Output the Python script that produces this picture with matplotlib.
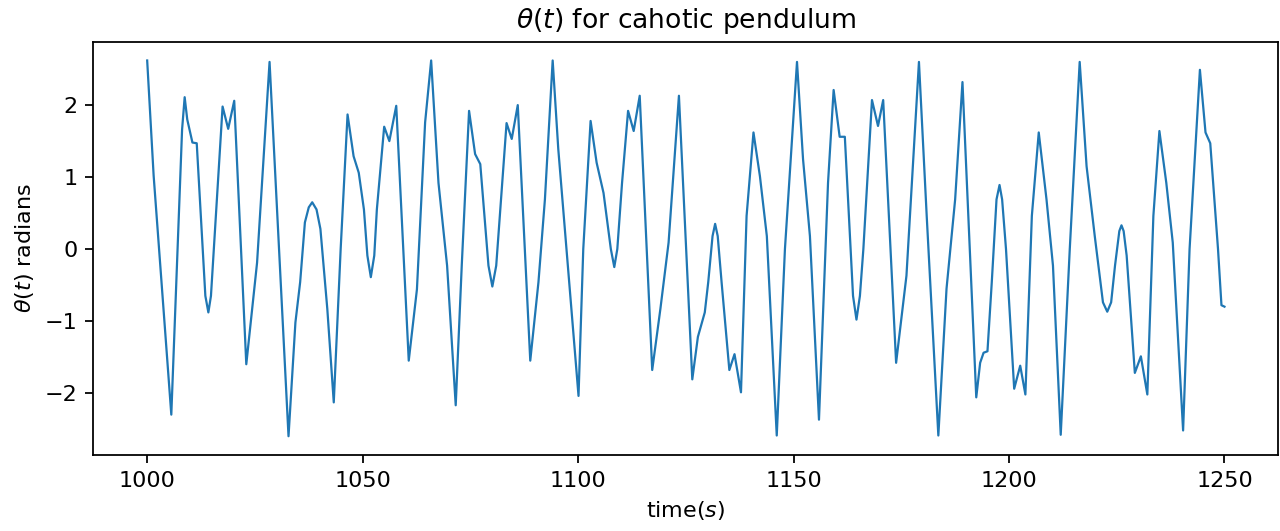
import matplotlib
matplotlib.use('Agg')
import matplotlib.pyplot as plt

# points (time in s, angle in radians)
time_s = [
    1000.0, 1001.5, 1005.6, 1008.1, 1008.7, 1009.3, 1010.5, 1011.5, 1013.5, 1014.2,
    1014.8, 1017.5, 1018.8, 1020.2, 1023.0, 1025.5, 1028.4, 1032.8, 1034.4, 1035.5,
    1036.6, 1037.5, 1038.3, 1039.3, 1040.2, 1041.8, 1043.3, 1044.9, 1046.5, 1047.9,
    1049.1, 1050.3, 1051.1, 1051.9, 1052.7, 1053.3, 1055.0, 1056.2, 1057.8, 1060.7,
    1062.6, 1064.5, 1065.9, 1067.6, 1069.6, 1071.6, 1073.0, 1074.7, 1076.1, 1077.3,
    1079.2, 1080.1, 1081.0, 1083.4, 1084.6, 1086.0, 1088.9, 1090.8, 1092.3, 1094.1,
    1095.4, 1097.3, 1100.1, 1101.2, 1102.9, 1104.3, 1105.9, 1107.6, 1108.4, 1109.1,
    1110.2, 1111.6, 1112.9, 1114.3, 1117.2, 1119.1, 1121.0, 1123.4, 1126.5, 1127.8,
    1129.4, 1130.2, 1131.2, 1131.8, 1132.4, 1133.3, 1135.1, 1136.3, 1137.8, 1139.1,
    1140.7, 1142.2, 1143.8, 1146.1, 1148.0, 1150.8, 1152.2, 1153.8, 1155.9, 1158.0,
    1159.3, 1160.7, 1161.9, 1163.8, 1164.6, 1165.4, 1166.2, 1168.2, 1169.6, 1170.8,
    1173.8, 1176.2, 1179.1, 1180.9, 1183.6, 1185.5, 1187.5, 1189.2, 1192.4, 1193.3,
    1194.1, 1195.0, 1196.0, 1197.1, 1197.8, 1198.4, 1199.3, 1201.2, 1202.6, 1203.8,
    1205.3, 1206.9, 1208.7, 1210.2, 1212.0, 1214.1, 1216.4, 1218.0, 1219.9, 1221.8,
    1222.8, 1223.7, 1224.6, 1225.6, 1226.1, 1226.6, 1227.3, 1229.2, 1230.6, 1232.1,
    1233.5, 1234.9, 1236.5, 1238.0, 1240.4, 1241.9, 1244.3, 1245.6, 1246.7, 1248.5,
    1249.3, 1250.0,
]
theta_rad = [
    2.62, 1.02, -2.30, 1.66, 2.11, 1.80, 1.48, 1.47, -0.65, -0.88,
    -0.65, 1.98, 1.67, 2.06, -1.60, -0.19, 2.60, -2.60, -1.02, -0.46,
    0.37, 0.58, 0.65, 0.55, 0.28, -0.83, -2.13, 0.00, 1.87, 1.29,
    1.06, 0.55, -0.09, -0.39, -0.09, 0.55, 1.70, 1.50, 1.99, -1.55,
    -0.56, 1.76, 2.62, 0.92, -0.23, -2.17, -0.23, 1.92, 1.32, 1.18,
    -0.23, -0.52, -0.23, 1.75, 1.53, 2.00, -1.55, -0.46, 0.69, 2.62,
    1.39, 0.00, -2.04, 0.00, 1.78, 1.20, 0.78, 0.00, -0.25, 0.00,
    0.92, 1.92, 1.64, 2.13, -1.68, -0.83, 0.09, 2.13, -1.81, -1.22,
    -0.88, -0.46, 0.18, 0.35, 0.18, -0.46, -1.68, -1.46, -1.99, 0.46,
    1.62, 1.01, 0.18, -2.59, 0.00, 2.60, 1.25, 0.18, -2.37, 0.92,
    2.21, 1.56, 1.56, -0.65, -0.98, -0.65, 0.00, 2.07, 1.71, 2.07,
    -1.58, -0.37, 2.60, 0.46, -2.59, -0.55, 0.69, 2.32, -2.06, -1.58,
    -1.44, -1.42, -0.46, 0.69, 0.89, 0.69, 0.00, -1.94, -1.62, -2.02,
    0.46, 1.62, 0.69, -0.23, -2.58, 0.00, 2.60, 1.15, 0.18, -0.74,
    -0.87, -0.74, -0.23, 0.25, 0.33, 0.25, -0.09, -1.72, -1.49, -2.02,
    0.46, 1.64, 0.92, 0.09, -2.52, 0.00, 2.49, 1.62, 1.47, 0.00,
    -0.78, -0.80,
]

fig, ax = plt.subplots(figsize=(8, 3.31875), dpi=160)
ax.plot(time_s, theta_rad, color='tab:blue', linewidth=1.0)
ax.set_title(r'$\theta(t)$ for cahotic pendulum')
ax.set_xlabel(r'time$(s)$')
ax.set_ylabel(r'$\theta(t)$ radians')
fig.subplots_adjust(left=0.0729, right=0.9987, top=0.9215, bottom=0.1431)
fig.savefig('out.png', dpi=160)
